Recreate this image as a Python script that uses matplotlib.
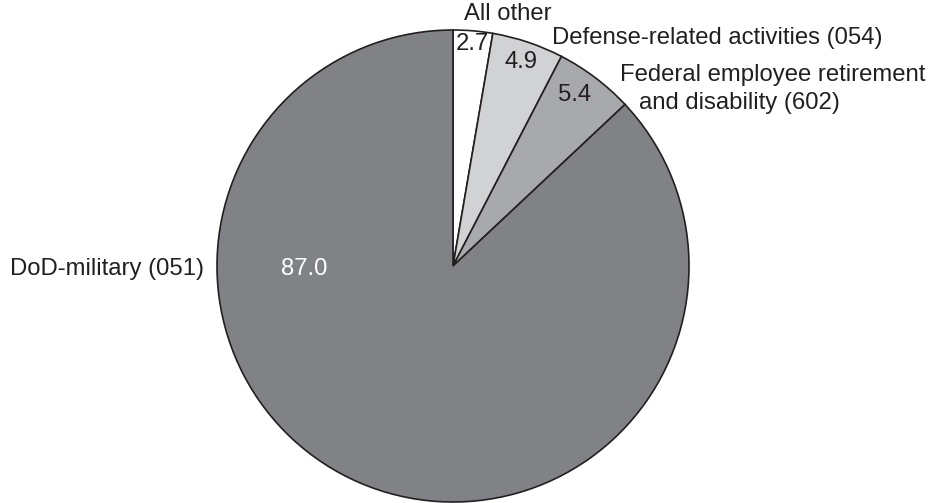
import matplotlib.pyplot as plt

# Data
labels = ["All other", "Defense-related activities (054)",
          "Federal employee retirement\nand disability (602)", "DoD-military (051)"]
values = [2.7, 4.9, 5.4, 87.0]
colors = ["#ffffff", "#d1d2d4", "#a7a9ac", "#808285"]

plt.rcParams['font.family'] = ['Liberation Sans', 'DejaVu Sans']

W, H = 941, 503
fig = plt.figure(figsize=(W / 100, H / 100), dpi=100)
cx, cy, r = 453, 266, 236
ax = fig.add_axes([(cx - r) / W, (H - cy - r) / H, 2 * r / W, 2 * r / H])
ax.axis('off')

ax.pie(values, colors=colors, startangle=90, counterclock=False, radius=1,
       wedgeprops=dict(edgecolor='#231f20', linewidth=1.2))
ax.set_xlim(-1, 1)
ax.set_ylim(-1, 1)


def d(px, py):
    # figure pixel -> data coords
    return (px - cx) / r, (cy - py) / r


fs = 17.2
ink = '#231f20'
ax.text(*d(472, 44), "2.7", ha='center', va='center', fontsize=fs, color=ink)
ax.text(*d(521, 62), "4.9", ha='center', va='center', fontsize=fs, color=ink)
ax.text(*d(575, 95), "5.4", ha='center', va='center', fontsize=fs, color=ink)
ax.text(*d(304, 269), "87.0", ha='center', va='center', fontsize=fs, color='white')

ax.text(*d(508, 14), labels[0], ha='center', va='center', fontsize=fs, color=ink, clip_on=False)
ax.text(*d(552, 38), labels[1], ha='left', va='center', fontsize=fs, color=ink, clip_on=False)
ax.text(*d(620, 75), "Federal employee retirement", ha='left', va='center', fontsize=fs,
        color=ink, clip_on=False)
ax.text(*d(639, 103), "and disability (602)", ha='left', va='center', fontsize=fs,
        color=ink, clip_on=False)
ax.text(*d(204, 269), labels[3], ha='right', va='center', fontsize=fs, color=ink, clip_on=False)

fig.savefig("out.png", dpi=100)
